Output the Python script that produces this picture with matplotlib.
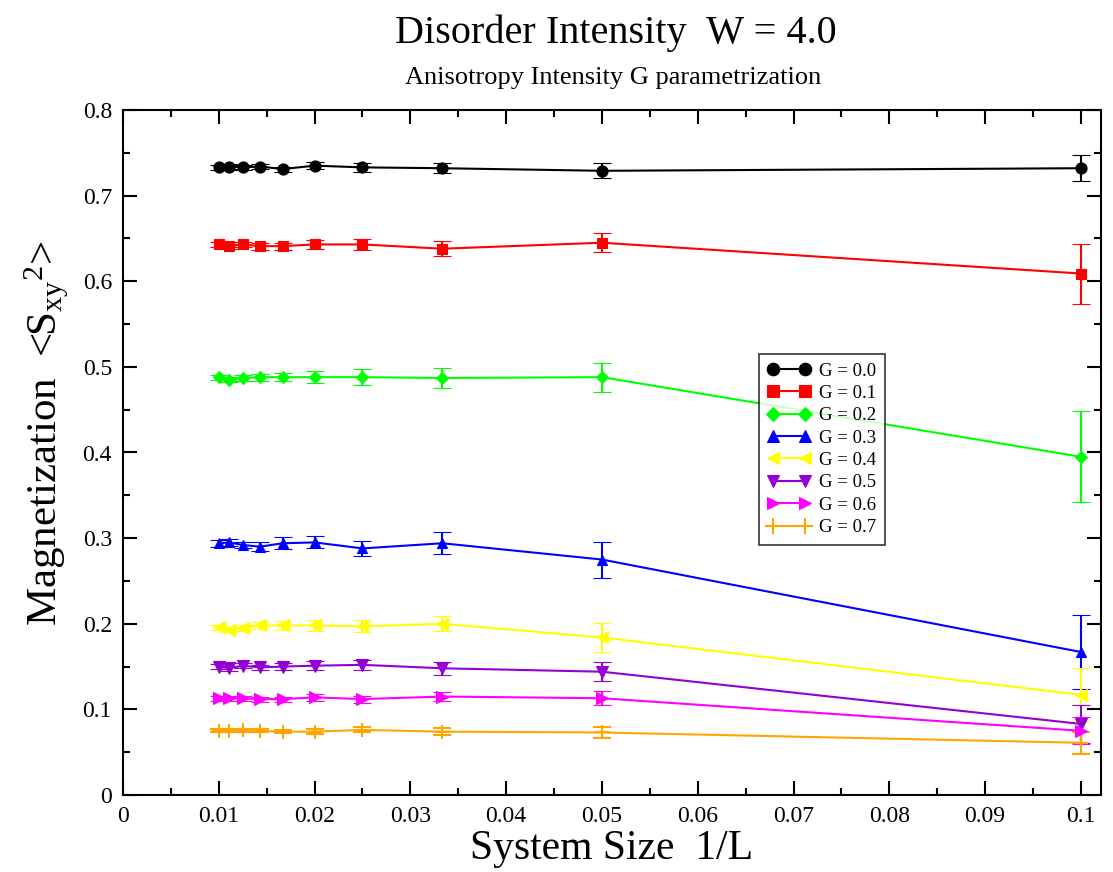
import matplotlib
matplotlib.use("Agg")
import matplotlib.pyplot as plt
from matplotlib.ticker import MultipleLocator
from matplotlib.lines import Line2D

plt.rcParams['font.family'] = ['Liberation Serif', 'DejaVu Serif']
plt.rcParams['mathtext.fontset'] = 'custom'
plt.rcParams['mathtext.rm'] = 'Liberation Serif'
plt.rcParams['mathtext.it'] = 'Liberation Serif:italic'

inv_L = [0.01, 1/90, 0.0125, 1/70, 1/60, 0.02, 0.025, 1/30, 0.05, 0.1]

g_labels = ["G = 0.0", "G = 0.1", "G = 0.2", "G = 0.3", "G = 0.4", "G = 0.5", "G = 0.6", "G = 0.7"]

m_g00 = [0.733, 0.734, 0.733, 0.734, 0.731, 0.735, 0.733, 0.732, 0.729, 0.732]
e_g00 = [0.003, 0.003, 0.003, 0.003, 0.003, 0.004, 0.005, 0.006, 0.009, 0.015]
m_g01 = [0.643, 0.641, 0.643, 0.641, 0.641, 0.643, 0.643, 0.638, 0.645, 0.609]
e_g01 = [0.003, 0.003, 0.003, 0.004, 0.004, 0.005, 0.006, 0.009, 0.011, 0.035]
m_g02 = [0.488, 0.485, 0.487, 0.488, 0.488, 0.488, 0.488, 0.487, 0.488, 0.395]
e_g02 = [0.003, 0.003, 0.004, 0.004, 0.005, 0.007, 0.009, 0.012, 0.017, 0.053]
m_g03 = [0.294, 0.295, 0.292, 0.290, 0.294, 0.295, 0.288, 0.294, 0.275, 0.167]
e_g03 = [0.004, 0.004, 0.004, 0.005, 0.007, 0.007, 0.009, 0.013, 0.021, 0.043]
m_g04 = [0.196, 0.193, 0.195, 0.198, 0.198, 0.198, 0.197, 0.200, 0.184, 0.117]
e_g04 = [0.003, 0.003, 0.004, 0.004, 0.005, 0.006, 0.007, 0.009, 0.017, 0.031]
m_g05 = [0.150, 0.148, 0.151, 0.149, 0.150, 0.151, 0.152, 0.148, 0.144, 0.083]
e_g05 = [0.003, 0.003, 0.003, 0.003, 0.004, 0.005, 0.0055, 0.0074, 0.011, 0.022]
m_g06 = [0.113, 0.113, 0.113, 0.112, 0.112, 0.114, 0.112, 0.115, 0.113, 0.075]
e_g06 = [0.003, 0.003, 0.003, 0.003, 0.003, 0.004, 0.004, 0.0055, 0.008, 0.016]
m_g07 = [0.075, 0.075, 0.0755, 0.075, 0.074, 0.074, 0.076, 0.074, 0.073, 0.061]
e_g07 = [0.002, 0.002, 0.002, 0.002, 0.002, 0.003, 0.003, 0.004, 0.0064, 0.013]

series = [m_g00, m_g01, m_g02, m_g03, m_g04, m_g05, m_g06, m_g07]
errors = [e_g00, e_g01, e_g02, e_g03, e_g04, e_g05, e_g06, e_g07]
colors = ['#000000', '#ff0000', '#00ff00', '#0000ff', '#ffff00', '#9400d3', '#ff00ff', '#ffa500']
markers = ['o', 's', 'D', '^', '<', 'v', '>', '+']
msizes = [8, 7.5, 6, 7.5, 8, 8, 8, 10]

fig = plt.figure(figsize=(11.13, 8.72), dpi=100)
ax = fig.add_axes([123/1113, 1-795/872, (1101-123)/1113, (795-110)/872])

handles = []
for y, e, c, m, ms, lab in zip(series, errors, colors, markers, msizes, g_labels):
    mew = 1.5 if m == '+' else 0.8
    ax.errorbar(inv_L, y, yerr=e, color=c, marker=m, markersize=ms, lw=1.5,
                capsize=6.5, capthick=1.5, elinewidth=1.5, markeredgewidth=mew)
    handles.append(Line2D([], [], color=c, marker=m, markersize=ms + 1, lw=1.5,
                          markeredgewidth=mew, label=lab))

ax.set_xlim(0, 0.1021)
ax.set_ylim(0, 0.8)
ax.xaxis.set_minor_locator(MultipleLocator(0.005))
ax.yaxis.set_minor_locator(MultipleLocator(0.05))
ax.set_xticks([0, 0.01, 0.02, 0.03, 0.04, 0.05, 0.06, 0.07, 0.08, 0.09, 0.1])
ax.set_xticklabels(["0", "0.01", "0.02", "0.03", "0.04", "0.05", "0.06", "0.07", "0.08", "0.09", "0.1"])
ax.set_yticks([0, 0.1, 0.2, 0.3, 0.4, 0.5, 0.6, 0.7, 0.8])
ax.set_yticklabels(["0", "0.1", "0.2", "0.3", "0.4", "0.5", "0.6", "0.7", "0.8"])
ax.tick_params(which='both', direction='in', top=True, right=True, labelsize=17, width=1.5)
ax.tick_params(which='major', length=10, pad=8)
ax.tick_params(which='minor', length=5)
for s in ax.spines.values():
    s.set_linewidth(1.5)

ax.set_xlabel("System Size  1/L", fontsize=30, labelpad=2)
ax.set_ylabel(r"Magnetization  <S$_{\mathrm{xy}}$$^{\mathrm{2}}$>", fontsize=31)
ax.yaxis.set_label_coords(-0.053, 0.528)

fig.text(616/1113, 1 - 43/872, "Disorder Intensity  W = 4.0", ha='center', va='baseline', fontsize=29)
fig.text(613/1113, 1 - 84/872, "Anisotropy Intensity G parametrization", ha='center', va='baseline', fontsize=19)

leg = ax.legend(handles=handles, loc='upper left', bbox_to_anchor=((759-123)/978, (795-354)/685),
                numpoints=2, fontsize=13.5, frameon=True, fancybox=False, edgecolor='black',
                handlelength=2.3, borderpad=0.45, labelspacing=0.28, handletextpad=0.45,
                borderaxespad=0)
leg.get_frame().set_linewidth(1.2)

fig.savefig("out.png", dpi=100)
